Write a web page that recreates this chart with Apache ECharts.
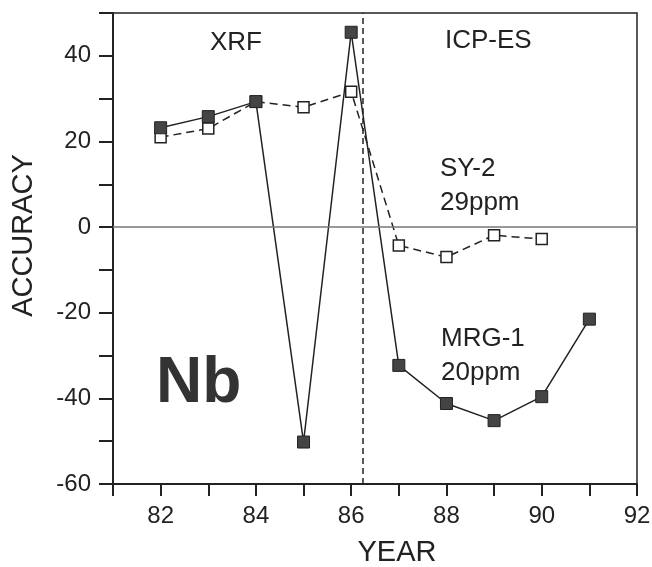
<!DOCTYPE html>
<html>
<head>
<meta charset="utf-8">
<script src="https://cdn.jsdelivr.net/npm/echarts@6/dist/echarts.min.js"></script>
<style>
  html, body { margin: 0; padding: 0; background: #fff; }
  #chart { width: 652px; height: 567px; }
</style>
</head>
<body>
<div id="chart"></div>
<script>
// values (accuracy in %)
const mrgYears = [82, 83, 84, 85, 86, 87, 88, 89, 90, 91];
const mrgValues = [23.2, 25.8, 29.3, -50.2, 45.5, -32.3, -41.2, -45.2, -39.6, -21.5];
const syYears = [82, 83, 84, 85, 86, 87, 88, 89, 90];
const syValues = [21, 23, 29.3, 28, 31.6, -4.3, -7, -1.9, -2.8];
const methodSplit = 86.25;

const ink = '#222';
const font = '"Liberation Sans", Arial, sans-serif';

const chart = echarts.init(document.getElementById('chart'));

const option = {
  backgroundColor: '#fff',
  animation: false,
  grid: {
    left: 113,
    right: 15,
    top: 13,
    bottom: 83,
    outerBoundsMode: 'none',
    containLabel: false,
    show: true,
    borderColor: ink,
    borderWidth: 1.5
  },
  xAxis: {
    type: 'value',
    min: 81,
    max: 92,
    interval: 1,
    name: 'YEAR',
    nameLocation: 'middle',
    nameGap: 54,
    nameTextStyle: { color: ink, fontSize: 29, fontFamily: font, padding: [0, 0, 0, 44] },
    splitLine: { show: false },
    axisLine: { onZero: false, lineStyle: { color: ink, width: 2 } },
    axisTick: { length: 12, lineStyle: { color: ink, width: 2 } },
    axisLabel: {
      color: ink,
      fontSize: 24,
      fontFamily: font,
      margin: 20,
      formatter: (v) => (v % 2 === 0 ? String(v) : '')
    }
  },
  yAxis: {
    type: 'value',
    min: -60,
    max: 50,
    interval: 10,
    name: 'ACCURACY',
    nameLocation: 'middle',
    nameGap: 75,
    nameTextStyle: { color: ink, fontSize: 29, fontFamily: font, padding: [0, 0, 0, 26] },
    splitLine: { show: false },
    axisLine: { onZero: false, lineStyle: { color: ink, width: 2 } },
    axisTick: { length: 14, lineStyle: { color: ink, width: 2 } },
    axisLabel: {
      color: ink,
      fontSize: 24,
      fontFamily: font,
      margin: 22,
      formatter: (v) => (v % 20 === 0 ? String(v) : '')
    }
  },
  series: [
    {
      name: 'SY-2',
      type: 'line',
      data: syYears.map((y, i) => [y, syValues[i]]),
      symbol: 'rect',
      symbolSize: 11,
      itemStyle: { color: '#fff', borderColor: ink, borderWidth: 1.5 },
      lineStyle: { color: ink, width: 1.5, type: [8, 5] },
      z: 2,
      markLine: {
        silent: true,
        symbol: 'none',
        label: { show: false },
        data: [
          { yAxis: 0, lineStyle: { color: '#777', width: 1.5, type: 'solid' } },
          { xAxis: methodSplit, lineStyle: { color: ink, width: 1.5, type: [6, 4] } }
        ]
      }
    },
    {
      name: 'MRG-1',
      type: 'line',
      data: mrgYears.map((y, i) => [y, mrgValues[i]]),
      symbol: 'rect',
      symbolSize: 12,
      itemStyle: { color: '#444', borderColor: ink, borderWidth: 1 },
      lineStyle: { color: ink, width: 1.5 },
      z: 3
    }
  ],
  graphic: [
    { type: 'text', left: 210, top: 30, style: { text: 'XRF', fill: ink, font: '26px ' + font } },
    { type: 'text', left: 445, top: 28, style: { text: 'ICP-ES', fill: ink, font: '26px ' + font } },
    { type: 'text', left: 440, top: 152, style: { text: 'SY-2\n29ppm', fill: ink, font: '26px ' + font, lineHeight: 34 } },
    { type: 'text', left: 441, top: 322, style: { text: 'MRG-1\n20ppm', fill: ink, font: '26px ' + font, lineHeight: 34 } },
    { type: 'text', left: 156, top: 352, style: { text: 'Nb', fill: '#333', font: 'bold 64px ' + font } }
  ]
};

chart.setOption(option);
</script>
</body>
</html>
